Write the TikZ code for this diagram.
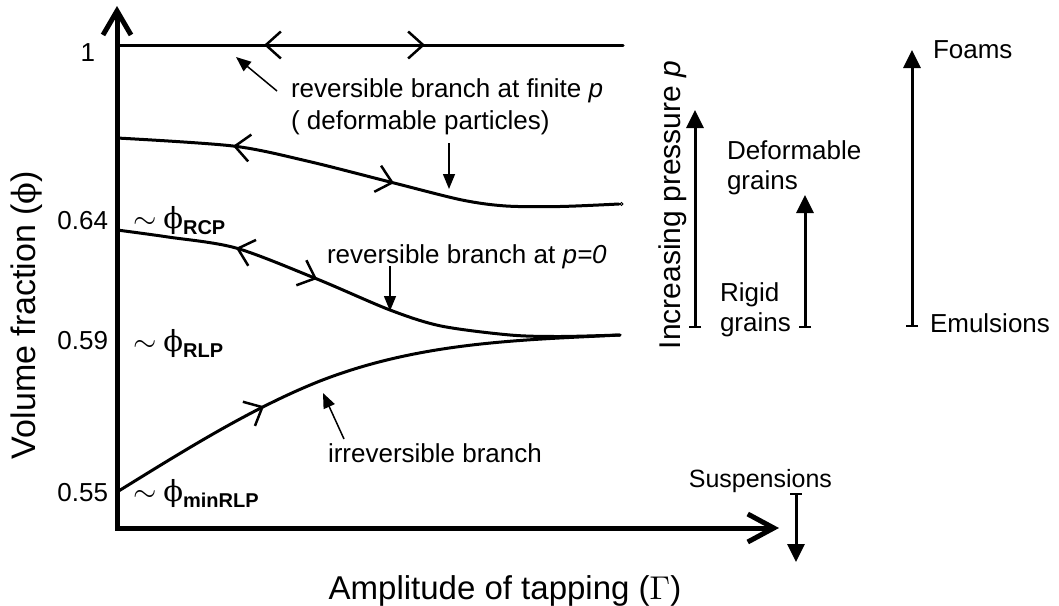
\documentclass[tikz,border=0pt]{standalone}
\usepackage{graphicx}
\usepackage{fontspec}
\setmainfont{Liberation Sans}
\newfontfamily\phifont{DejaVu Serif}
\usetikzlibrary{arrows.meta}
\tikzset{
  marker/.style={line width=2.5pt, -{Straight Barb[length=15pt,width=27pt]}},
  axisline/.style={line width=5pt, line join=miter,
    {Straight Barb[length=24pt,width=28pt]}-{Straight Barb[length=26pt,width=28pt]}},
  branch/.style={line width=3pt, line cap=round},
  annot/.style={line width=1.5pt, -{Triangle[length=15pt,width=12pt]}},
  bigarrow/.style={line width=3pt, {Bar[width=12pt,line width=2pt]}-{Triangle[length=18pt,width=17pt]}},
  lbl/.style={font=\fontsize{26}{30}\selectfont},
  tick/.style={font=\fontsize{26}{30}\selectfont, anchor=base east},
  philbl/.style={anchor=base west},
}
\newcommand{\mbig}[2]{\scalebox{#1}{\normalsize$#2$}}
\newcommand{\phisym}[1]{{\phifont\fontsize{#1}{#1}\selectfont\symbol{"03D5}}}
\newcommand{\philabel}[1]{\mbig{3}{\sim}\hspace{7pt}\phisym{29}\raisebox{-6pt}{\fontsize{20}{20}\selectfont\bfseries #1}}
\begin{document}
\begin{tikzpicture}[x=1pt,y=-1pt, every node/.style={inner sep=0pt, outer sep=0pt}]
\useasboundingbox (0,0) rectangle (1059,605);

% axes
\coordinate (O) at (117,528);
\coordinate (Ytip) at (117,6);
\coordinate (Xtip) at (779,528);
\draw[axisline] (Ytip) -- (O) -- (Xtip);

% top branch
\coordinate (T0) at (117,45);
\coordinate (T1) at (623,45);
\draw[branch] (T0) -- (T1);
\draw[marker] (269,45) -- (264,45);
\draw[marker] (420,45) -- (425,45);

% finite p branch
\draw[branch] plot[smooth] coordinates
  {(117,138) (233,146) (307,161) (394,183) (462,200) (506,206) (560,206.5) (619,204)};
\draw[line width=0.8pt] (621.5,204) circle (1.5pt);
\draw[marker] (238,146.6) -- (233,146);
\draw[marker] (389,181.7) -- (394,183);

% p=0 branch
\draw[branch] plot[smooth] coordinates
  {(117,230) (168,237) (236,248) (317,279) (390,310) (441,326) (510,335) (560,336.5) (620,335)};
\draw[marker] (241,249.5) -- (236,248);
\draw[marker] (312,277) -- (317,279);

% irreversible branch
\coordinate (I0) at (117,492);
\coordinate (I1) at (320,381);
\coordinate (I2) at (620,335);
\draw[branch] (I0) .. controls (185,450) and (252,408) .. (I1)
                   .. controls (420,342) and (520,340) .. (I2);
\draw[marker] (259,408.8) -- (264,406.3);

% tick labels
\node[tick] (t1) at (95,61) {1};
\node[tick] (t064) at (108,229) {0.64};
\node[tick] (t059) at (108,349) {0.59};
\node[tick] (t055) at (108,501) {0.55};

% phi labels
\node[philbl] (rcp) at (133,228) {\philabel{RCP}};
\node[philbl] (rlp) at (133,351) {\philabel{RLP}};
\node[philbl] (minrlp) at (133,501) {\philabel{minRLP}};

% annotation texts
\node[lbl, anchor=base west] (finite1) at (291,97) {reversible branch at finite \textit{p}};
\node[lbl, anchor=base west] (finite2) at (291,129) {( deformable particles)};
\node[lbl, anchor=base west] (pzero) at (327,263) {reversible branch at \textit{p=0}};
\node[lbl, anchor=base west] (irrev) at (328,462) {irreversible branch};

% annotation arrows
\coordinate (a1s) at (277,91);  \coordinate (a1e) at (236,57);
\draw[annot] (a1s) -- (a1e);
\coordinate (a2s) at (449,143); \coordinate (a2e) at (449,189);
\draw[annot] (a2s) -- (a2e);
\coordinate (a3s) at (390,266); \coordinate (a3e) at (390,311);
\draw[annot] (a3s) -- (a3e);
\coordinate (a4s) at (344,439); \coordinate (a4e) at (323,393);
\draw[annot] (a4s) -- (a4e);

% axis titles
\node[font=\fontsize{34}{34}\selectfont, rotate=90] (ytitle) at (27,315) {Volume fraction (\phisym{32})};
\node[font=\fontsize{33}{33}\selectfont] (xtitle) at (505,591) {Amplitude of tapping (\mbig{3.3}{\Gamma})};

% right side
\node[font=\fontsize{30}{30}\selectfont, rotate=90] (press) at (673,205) {Increasing pressure \textit{p}};
\coordinate (p1s) at (695,328); \coordinate (p1e) at (695,110);
\draw[bigarrow] (p1s) -- (p1e);
\node[lbl, anchor=west, align=left] (defg) at (727,168) {Deformable\\grains};
\coordinate (p2s) at (805,328); \coordinate (p2e) at (805,195);
\draw[bigarrow] (p2s) -- (p2e);
\node[lbl, anchor=west, align=left] (rigid) at (720,310) {Rigid\\grains};
\coordinate (p3s) at (912,327); \coordinate (p3e) at (912,50);
\draw[bigarrow] (p3s) -- (p3e);
\node[lbl, anchor=west] (foams) at (933,50) {Foams};
\node[lbl, anchor=west] (emul) at (930,323) {Emulsions};
\node[font=\fontsize{25}{25}\selectfont, anchor=base east] (susp) at (832,487) {Suspensions};
\coordinate (s1s) at (796,493); \coordinate (s1e) at (796,562);
\draw[bigarrow] (s1s) -- (s1e);
\end{tikzpicture}
\end{document}
